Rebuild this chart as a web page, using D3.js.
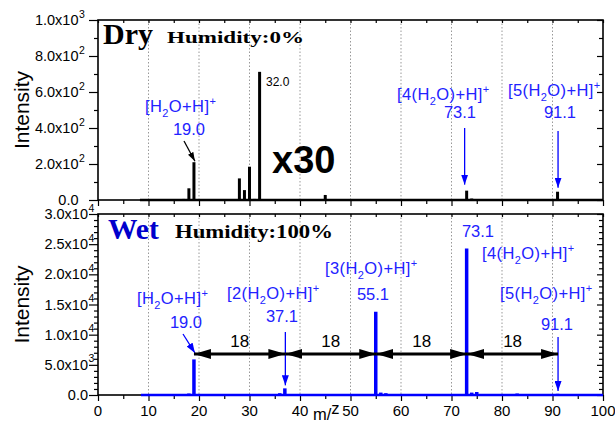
<!DOCTYPE html>
<html>
<head>
<meta charset="utf-8">
<script src="https://cdn.jsdelivr.net/npm/d3@7"></script>
<style>
  body { margin: 0; background: #fff; }
  svg { display: block; }
  .tick line { stroke: #000; stroke-width: 1.2; }
  .axis path.domain { display: none; }
</style>
</head>
<body>
<div id="chart"></div>
<script>
// m/z ticks
var mzTicks = [0, 10, 20, 30, 40, 50, 60, 70, 80, 90, 100];
var mzMinor = [5, 15, 25, 35, 45, 55, 65, 75, 85, 95];
var gridMz = [10, 20, 30, 40, 50, 60, 70, 80, 90];

// dry spectrum (x30)
var dryMz  = [11, 12, 14, 16, 17, 18, 19, 20, 24, 26, 27, 28, 29, 30, 31, 32, 33, 36, 39, 40, 43, 45, 50, 53, 59, 63, 67, 73, 74, 77, 91, 92, 96];
var dryInt = [3, 4, 3, 4, 6, 65, 210, 4, 3, 5, 4, 120, 55, 185, 6, 712, 5, 3, 4, 3, 5, 28, 3, 3, 3, 4, 3, 52, 8, 3, 46, 5, 3];
var dryRange = [8.3, 100];

// wet spectrum
var wetMz  = [17, 18, 19, 20, 28, 32, 36, 37, 38, 55, 56, 57, 73, 74, 75, 83, 91];
var wetInt = [150, 250, 5900, 150, 100, 150, 300, 1100, 150, 13800, 400, 300, 24300, 400, 500, 250, 200];
var wetRange = [8.5, 100];

var dryYTicks = [0, 200, 400, 600, 800, 1000];
var dryYMinor = [100, 300, 500, 700, 900];
var wetYTicks = [0, 5000, 10000, 15000, 20000, 25000, 30000];
var wetYMinor = d3.range(1000, 30000, 1000).filter(function(v) { return v % 5000 !== 0; });

// cluster series labels
var clusterMz = [19.0, 37.1, 55.1, 73.1, 91.1];
var clusterIon = ["[H_2O+H]^+", "[2(H_2O)+H]^+", "[3(H_2O)+H]^+", "[4(H_2O)+H]^+", "[5(H_2O)+H]^+"];
var spacing = "18";

var W = 615, H = 423;
var blue = "#0000ff", textBlue = "#2222ff";

var x = d3.scaleLinear().domain([0, 100]).range([98, 603]);
var yDry = d3.scaleLinear().domain([0, 1000]).range([200, 20]);
var yWet = d3.scaleLinear().domain([0, 30000]).range([395, 214]);

var svg = d3.select("#chart").append("svg")
    .attr("width", W)
    .attr("height", H)
    .style("font-family", "'Liberation Sans', Arial, sans-serif");

var defs = svg.append("defs");
function marker(id, color, len, wid) {
  defs.append("marker")
      .attr("id", id)
      .attr("markerUnits", "userSpaceOnUse")
      .attr("viewBox", "0 0 " + len + " " + wid)
      .attr("refX", len).attr("refY", wid / 2)
      .attr("markerWidth", len).attr("markerHeight", wid)
      .attr("orient", "auto-start-reverse")
      .append("path")
      .attr("d", "M0,0L" + len + "," + (wid / 2) + "L0," + wid + "Z")
      .attr("fill", color);
}
marker("headBig", "#000", 17, 10);
marker("headBlue", blue, 10, 7);
marker("headBlack", "#000", 9, 6);

// write chemical formula: _ = subscript, ^ = superscript
function chem(sel, str) {
  var runs = [], cur = "";
  for (var i = 0; i < str.length; i++) {
    var c = str[i];
    if (c === "_" || c === "^") {
      if (cur) runs.push({t: cur, k: "n"});
      cur = "";
      runs.push({t: str[i + 1], k: c === "_" ? "sub" : "sup"});
      i++;
    } else cur += c;
  }
  if (cur) runs.push({t: cur, k: "n"});
  var shift = 0;
  runs.forEach(function(r) {
    var target = r.k === "sub" ? 5 : r.k === "sup" ? -7 : 0;
    var ts = sel.append("tspan").attr("dy", target - shift).text(r.t);
    if (r.k !== "n") ts.attr("font-size", 11);
    shift = target;
  });
}

function sciParts(v) {
  if (v === 0) return ["0.0", null];
  var e = Math.floor(Math.log10(v));
  return [(v / Math.pow(10, e)).toFixed(1) + "x10", String(e)];
}

function panel(y, yTicks, yMinor, labelRight, mz, inten, range, color, barW) {
  var top = y.range()[1], bot = y.range()[0];

  // grid
  svg.append("g").selectAll("line").data(gridMz).join("line")
      .attr("x1", function(d) { return x(d); }).attr("x2", function(d) { return x(d); })
      .attr("y1", top).attr("y2", bot)
      .attr("stroke", "#999").attr("stroke-width", 1).attr("stroke-dasharray", "1.5,2");

  // axes ticks
  svg.append("g").attr("class", "axis").attr("transform", "translate(0," + bot + ")")
      .call(d3.axisBottom(x).tickValues(mzTicks).tickSize(6).tickFormat(""));
  svg.append("g").attr("class", "axis").attr("transform", "translate(0," + bot + ")")
      .call(d3.axisBottom(x).tickValues(mzMinor).tickSize(4).tickFormat(""));
  svg.append("g").attr("class", "axis").attr("transform", "translate(0," + top + ")")
      .call(d3.axisBottom(x).tickValues(mzTicks.concat(mzMinor)).tickSize(3).tickFormat(""));
  svg.append("g").attr("class", "axis").attr("transform", "translate(" + x(0) + ",0)")
      .call(d3.axisLeft(y).tickValues(yTicks).tickSize(9).tickFormat(""));
  svg.append("g").attr("class", "axis").attr("transform", "translate(" + x(0) + ",0)")
      .call(d3.axisLeft(y).tickValues(yMinor).tickSize(4).tickFormat(""));
  svg.append("g").attr("class", "axis").attr("transform", "translate(" + x(100) + ",0)")
      .call(d3.axisRight(y).tickValues(yTicks).tickSize(-6).tickFormat(""));
  svg.append("g").attr("class", "axis").attr("transform", "translate(" + x(100) + ",0)")
      .call(d3.axisRight(y).tickValues(yMinor).tickSize(-4).tickFormat(""));

  // y labels
  var lab = svg.append("g").attr("font-size", 14.5).selectAll("g").data(yTicks).join("g");
  lab.append("text")
      .attr("x", labelRight).attr("y", function(d) { return y(d) + 5; })
      .attr("text-anchor", "end")
      .text(function(d) { return sciParts(d)[0]; });
  lab.filter(function(d) { return d > 0; }).append("text")
      .attr("x", labelRight + 0.5).attr("y", function(d) { return y(d) - 2.5; })
      .attr("font-size", 10.5)
      .text(function(d) { return sciParts(d)[1]; });

  // frame
  svg.append("rect")
      .attr("x", x(0)).attr("y", top)
      .attr("width", x(100) - x(0)).attr("height", bot - top)
      .attr("fill", "none").attr("stroke", "#000").attr("stroke-width", 1.6);

  // spectrum baseline + sticks
  svg.append("line")
      .attr("x1", x(range[0])).attr("x2", x(range[1]))
      .attr("y1", y(0)).attr("y2", y(0))
      .attr("stroke", color).attr("stroke-width", 2.5);
  svg.append("g").selectAll("line").data(mz).join("line")
      .attr("x1", function(d) { return x(d); }).attr("x2", function(d) { return x(d); })
      .attr("y1", y(0)).attr("y2", function(d, i) { return y(inten[i]); })
      .attr("stroke", color).attr("stroke-width", barW);

  // y title
  svg.append("text")
      .attr("transform", "translate(29," + ((top + bot) / 2) + ") rotate(-90)")
      .attr("text-anchor", "middle").attr("font-size", 21)
      .text("Intensity");
}

panel(yDry, dryYTicks, dryYMinor, 78.5, dryMz, dryInt, dryRange, "#000", 3);
panel(yWet, wetYTicks, wetYMinor, 88, wetMz, wetInt, wetRange, blue, 3.5);

// x tick labels
svg.append("g").attr("font-size", 15).selectAll("text").data(mzTicks).join("text")
    .attr("x", function(d) { return x(d); }).attr("y", 416)
    .attr("text-anchor", "middle")
    .text(function(d) { return d; });
var mzt = svg.append("text").attr("x", 313).attr("y", 420).attr("font-size", 16.5);
mzt.append("tspan").text("m/");
mzt.append("tspan").attr("dy", -6).text("z");

// titles
var serif = "'Liberation Serif', 'Times New Roman', serif";
svg.append("text").attr("x", 103).attr("y", 44).attr("font-family", serif)
    .attr("font-weight", "bold").attr("font-size", 30).text("Dry");
svg.append("text").attr("x", 167).attr("y", 43).attr("font-family", serif)
    .attr("font-weight", "bold").attr("font-size", 17.5)
    .attr("textLength", 137).attr("lengthAdjust", "spacingAndGlyphs").text("Humidity:0%");
svg.append("text").attr("x", 108).attr("y", 239).attr("font-family", serif)
    .attr("font-weight", "bold").attr("font-size", 29.5).attr("fill", "#0000cc").text("Wet");
svg.append("text").attr("x", 175).attr("y", 238).attr("font-family", serif)
    .attr("font-weight", "bold").attr("font-size", 19.5)
    .attr("textLength", 158).attr("lengthAdjust", "spacingAndGlyphs").text("Humidity:100%");

svg.append("text").attr("x", 272).attr("y", 173)
    .attr("font-weight", "bold").attr("font-size", 38).text("x30");
svg.append("text").attr("x", 266).attr("y", 86).attr("font-size", 12)
    .text(dryMz[dryInt.indexOf(d3.max(dryInt))].toFixed(1));

// annotation helpers
function ion(i, px, py) {
  chem(svg.append("text").attr("x", px).attr("y", py).attr("font-size", 16.5)
      .attr("letter-spacing", 0.4).attr("fill", textBlue), clusterIon[i]);
}
function val(i, px, py) {
  svg.append("text").attr("x", px).attr("y", py).attr("font-size", 16.5)
      .attr("text-anchor", "middle").attr("fill", textBlue)
      .text(clusterMz[i].toFixed(1));
}
function arrow(x1, y1, x2, y2, color, w, head) {
  svg.append("line").attr("x1", x1).attr("y1", y1).attr("x2", x2).attr("y2", y2)
      .attr("stroke", color).attr("stroke-width", w)
      .attr("marker-end", "url(#" + head + ")");
}

// dry annotations
ion(0, 145, 112); val(0, 189, 135);
arrow(184, 141, x(19) + 1, yDry(dryInt[6]) - 1, "#000", 1.3, "headBlack");
ion(3, 397, 100); val(3, 460, 118);
arrow(x(72.6), 128, x(72.6), yDry(dryInt[27]) - 6, blue, 1.3, "headBlue");
ion(4, 508, 96); val(4, 560, 118);
arrow(x(91.1), 131, x(91.1), yDry(dryInt[30]) - 4, blue, 1.3, "headBlue");

// wet annotations
ion(0, 137, 304); val(0, 186, 328);
arrow(183, 334, x(19) + 1, yWet(6800) - 1, blue, 1.3, "headBlue");
ion(1, 227, 299); val(1, 282, 322);
arrow(x(37.1), 332, x(37.1), yWet(wetInt[7]) - 3, blue, 1.3, "headBlue");
ion(2, 325, 274); val(2, 373, 300);
val(3, 478, 237);
ion(3, 482, 259);
ion(4, 500, 299); val(4, 557, 330);
arrow(x(91.1), 337, x(91.1), yWet(0) - 4, blue, 1.3, "headBlue");

// spacing arrows (18 Da)
var arrowY = 6800;
d3.pairs(clusterMz).forEach(function(p) {
  svg.append("line")
      .attr("x1", x(p[0])).attr("x2", x(p[1]))
      .attr("y1", yWet(arrowY)).attr("y2", yWet(arrowY))
      .attr("stroke", "#000").attr("stroke-width", 3)
      .attr("marker-start", "url(#headBig)").attr("marker-end", "url(#headBig)");
  svg.append("text")
      .attr("x", (x(p[0]) + x(p[1])) / 2).attr("y", yWet(arrowY) - 7)
      .attr("text-anchor", "middle").attr("font-size", 17)
      .text(spacing);
});
</script>
</body>
</html>
